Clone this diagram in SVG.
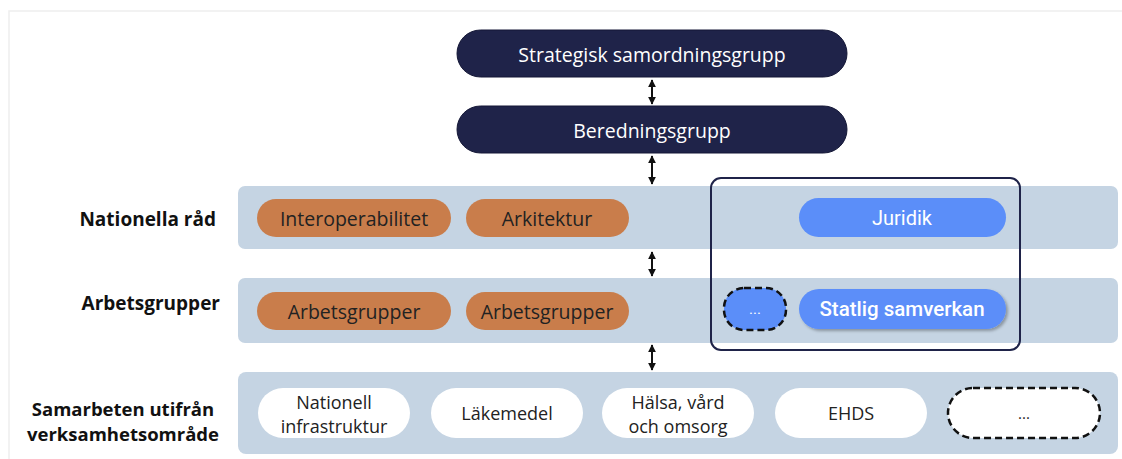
<svg xmlns="http://www.w3.org/2000/svg" width="1122" height="459" viewBox="0 0 1122 459">
<style>
.frame{fill:#ffffff;stroke:#eeeeee;stroke-width:1.5}
.navy{fill:#1f2349;stroke:#141736;stroke-width:1}
.band{fill:#c5d4e3}
.orange{fill:#c97d4b}
.blue{fill:#5b8ef9}
.white{fill:#ffffff}
.dash{stroke:#111111;stroke-width:2.5;stroke-dasharray:7 4}
.t{font-family:"Open Sans","Noto Sans","Liberation Sans",sans-serif;font-size:19.5px;text-anchor:middle;dominant-baseline:central;fill:#222222}
.tp{font-size:18px}
.tw{fill:#ffffff}
.tb{font-family:"Open Sans","Noto Sans","Liberation Sans",sans-serif;font-size:19px;font-weight:bold;fill:#111111;dominant-baseline:central}
.tr{font-family:Roboto,"Liberation Sans",sans-serif;font-size:20px;text-anchor:middle;dominant-baseline:central;fill:#ffffff}
.conn{stroke:#111111;stroke-width:2;fill:none;marker-start:url(#ah);marker-end:url(#ah)}
</style>
<defs>
<marker id="ah" viewBox="0 0 10 10" refX="9" refY="5" markerWidth="4" markerHeight="4" orient="auto-start-reverse" markerUnits="strokeWidth">
<path d="M0,0 L10,5 L0,10 z" fill="#111111"/>
</marker>
<filter id="sh" x="-10%" y="-20%" width="130%" height="160%">
<feDropShadow dx="2" dy="2" stdDeviation="1.5" flood-color="#000000" flood-opacity="0.3"/>
</filter>
</defs>
<rect class="frame" x="9" y="11" width="1120" height="460"/>

<g id="bands">
<rect class="band" x="238" y="186" width="880" height="63" rx="7"/>
<rect class="band" x="238" y="278" width="880" height="65" rx="7"/>
<rect class="band" x="238" y="372" width="880" height="82" rx="8"/>
</g>

<g id="labels">
<text class="tb" x="216" y="219" text-anchor="end">Nationella råd</text>
<text class="tb" x="220" y="303" text-anchor="end">Arbetsgrupper</text>
<text class="tb" x="123" y="408" text-anchor="middle" style="font-size:18.5px">Samarbeten utifrån</text>
<text class="tb" x="123" y="433" text-anchor="middle" style="font-size:18.5px">verksamhetsområde</text>
</g>

<g id="n-strategisk">
<rect class="navy" x="457" y="30" width="390" height="47" rx="23.5"/>
<text class="t tw" x="652" y="54">Strategisk samordningsgrupp</text>
</g>
<g id="n-beredning">
<rect class="navy" x="457" y="106" width="390" height="47" rx="23.5"/>
<text class="t tw" x="652" y="130">Beredningsgrupp</text>
</g>

<g id="n-interop">
<rect class="orange" x="257" y="199" width="194" height="38" rx="19"/>
<text class="t" x="354" y="218">Interoperabilitet</text>
</g>
<g id="n-arkitektur">
<rect class="orange" x="466" y="199" width="163" height="38" rx="19"/>
<text class="t" x="547" y="218">Arkitektur</text>
</g>
<g id="n-arb1">
<rect class="orange" x="257" y="292" width="194" height="38" rx="19"/>
<text class="t" x="354" y="311">Arbetsgrupper</text>
</g>
<g id="n-arb2">
<rect class="orange" x="466" y="292" width="163" height="38" rx="19"/>
<text class="t" x="547" y="311">Arbetsgrupper</text>
</g>

<g id="n-statlig-box">
<rect x="711" y="178" width="309" height="172" rx="10" fill="none" stroke="#1f2349" stroke-width="2"/>
</g>
<g id="n-juridik">
<rect class="blue" x="799" y="198" width="207" height="39" rx="19.5"/>
<text class="tr" x="902" y="218">Juridik</text>
</g>
<g id="n-dots-blue">
<rect class="blue dash" x="724" y="288" width="62" height="42" rx="20"/>
<text class="tr" x="755" y="309" style="font-size:15px">...</text>
</g>
<g id="n-statlig">
<rect class="blue" x="799" y="289" width="207" height="40" rx="20" filter="url(#sh)"/>
<text class="tr" x="902" y="309" style="font-size:20.5px;font-weight:500">Statlig samverkan</text>
</g>

<g id="n-infra">
<rect class="white" x="258" y="388" width="152" height="50" rx="25"/>
<text class="t tp" x="334" y="402">Nationell</text>
<text class="t tp" x="334" y="426">infrastruktur</text>
</g>
<g id="n-lakemedel">
<rect class="white" x="431" y="388" width="152" height="50" rx="25"/>
<text class="t tp" x="507" y="413">Läkemedel</text>
</g>
<g id="n-halsa">
<rect class="white" x="602" y="388" width="152" height="50" rx="25"/>
<text class="t tp" x="678" y="402">Hälsa, vård</text>
<text class="t tp" x="678" y="426">och omsorg</text>
</g>
<g id="n-ehds">
<rect class="white" x="775" y="388" width="152" height="50" rx="25"/>
<text class="t tp" x="851" y="413">EHDS</text>
</g>
<g id="n-dots">
<rect class="white dash" x="948" y="388" width="152" height="50" rx="25"/>
<text class="t tp" x="1024" y="413" style="font-size:15px">...</text>
</g>

<g id="connectors">
<line class="conn" x1="652" y1="80" x2="652" y2="104"/>
<line class="conn" x1="652" y1="156" x2="652" y2="184"/>
<line class="conn" x1="652" y1="252" x2="652" y2="276"/>
<line class="conn" x1="652" y1="345" x2="652" y2="370"/>
</g>
</svg>
